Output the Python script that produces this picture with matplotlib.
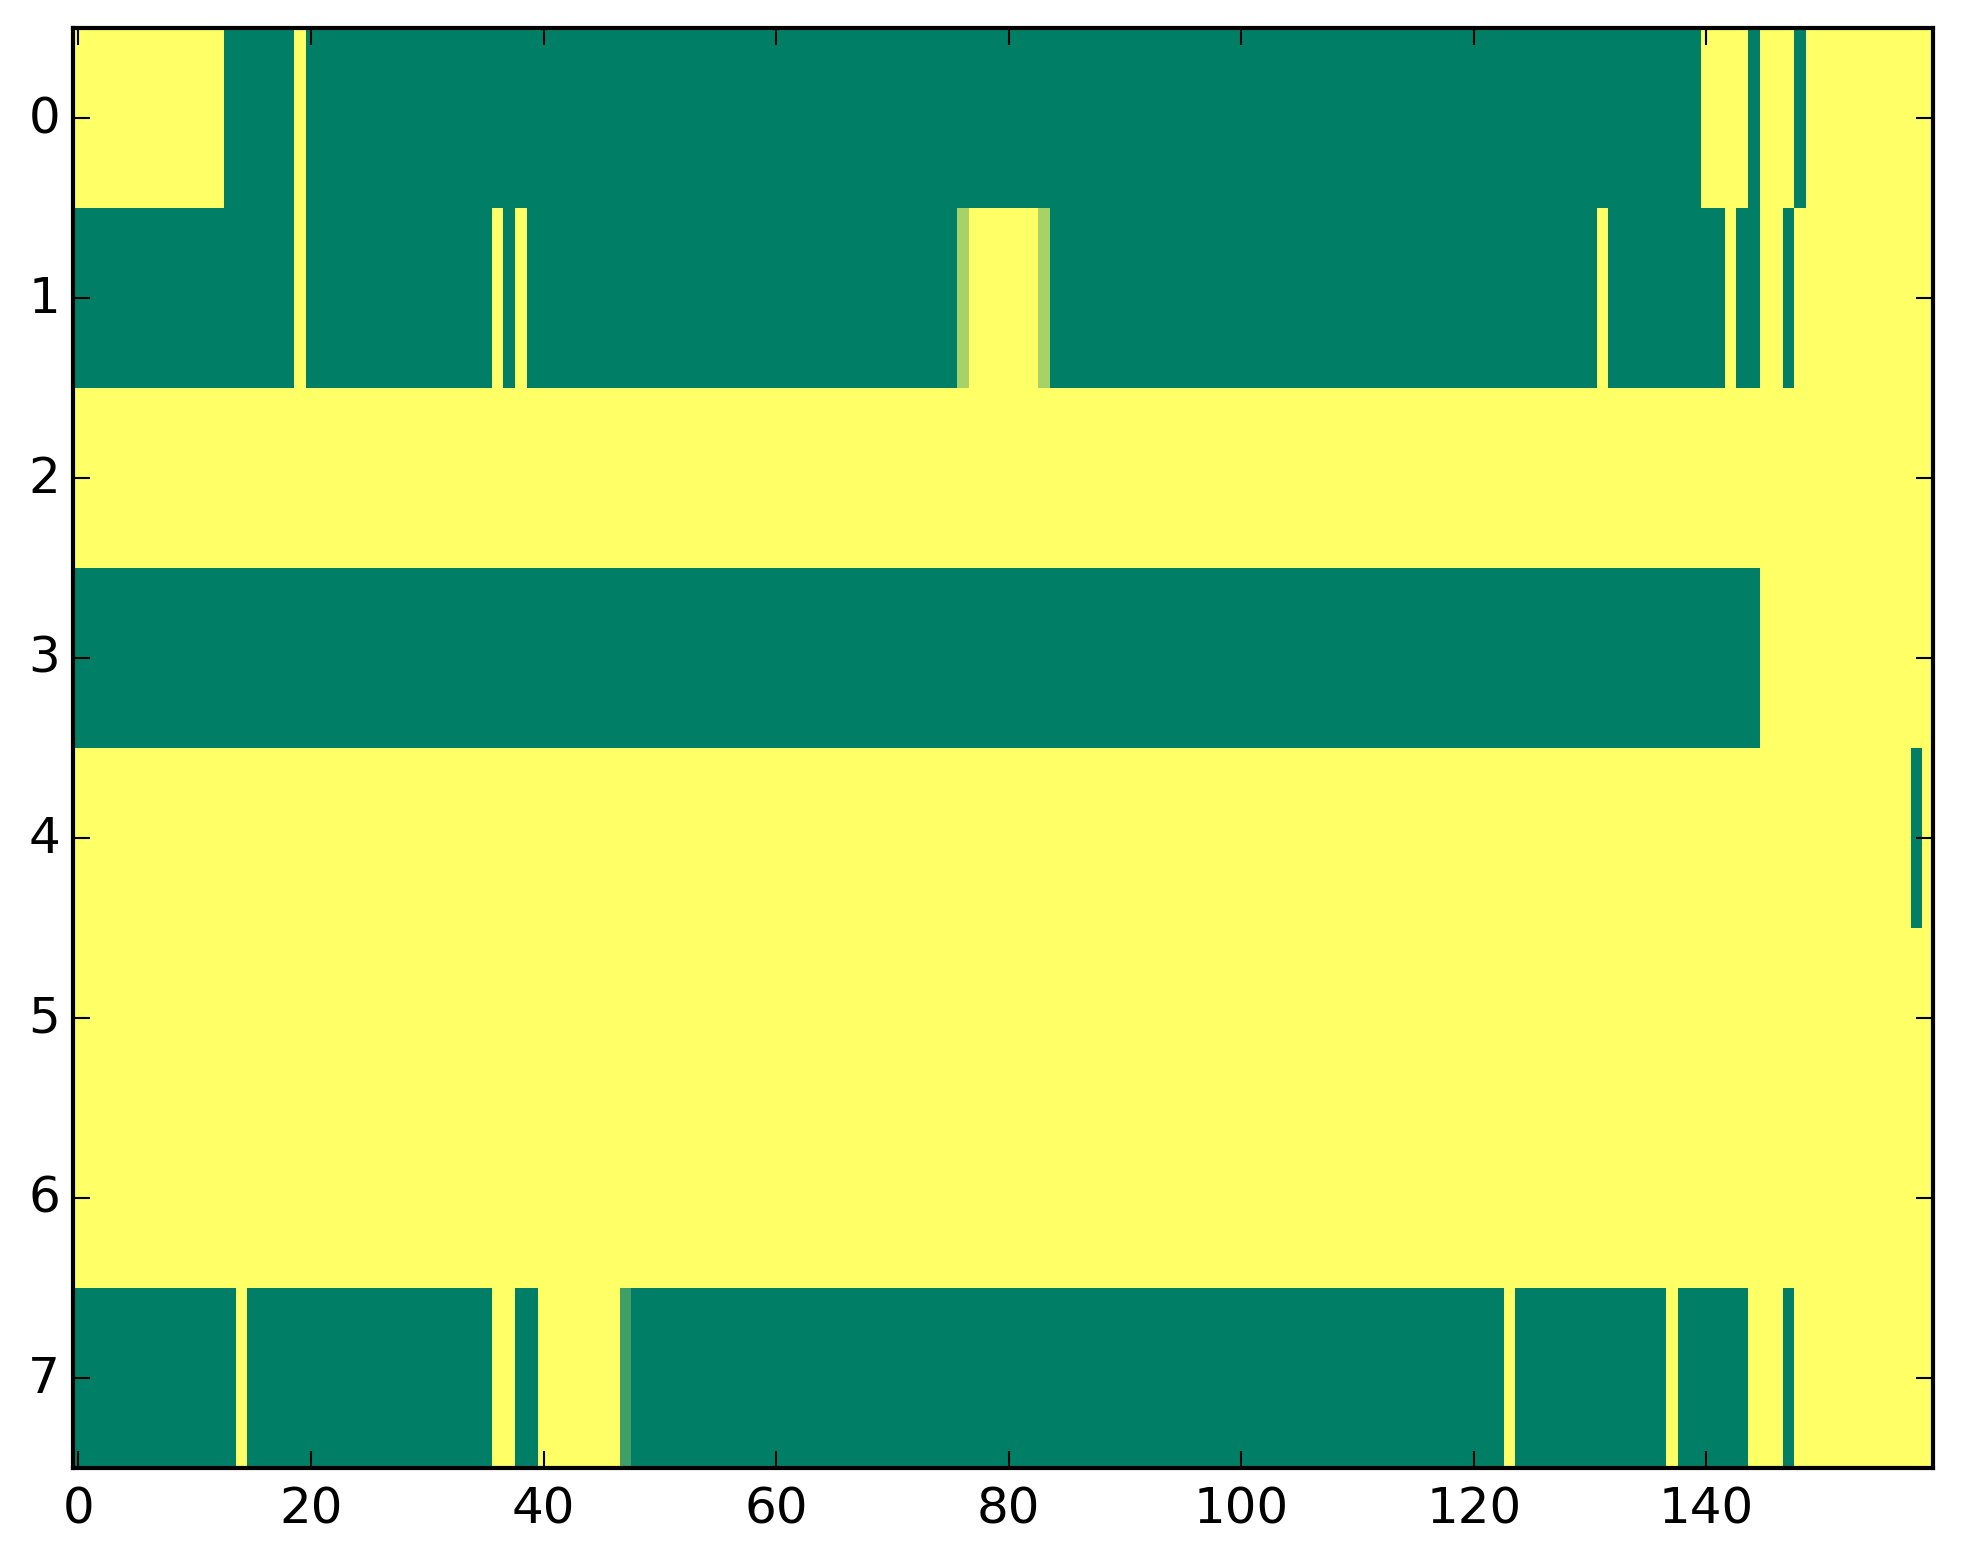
import numpy as np
import matplotlib
matplotlib.use('Agg')
import matplotlib.pyplot as plt

# each row given as runs of (value, number of columns); 1 = yellow, 0 = green
row0 = [(1, 13), (0, 6), (1, 1), (0, 120), (1, 4), (0, 1), (1, 3), (0, 1), (1, 11)]
row1 = [(0, 19), (1, 1), (0, 16), (1, 1), (0, 1), (1, 1), (0, 37), (0.65, 1), (1, 6),
        (0.65, 1), (0, 47), (1, 1), (0, 10), (1, 1), (0, 2), (1, 2), (0, 1), (1, 12)]
row2 = [(1, 160)]
row3 = [(0, 145), (1, 15)]
row4 = [(1, 158), (0, 1), (1, 1)]
row5 = [(1, 160)]
row6 = [(1, 160)]
row7 = [(0, 14), (1, 1), (0, 21), (1, 2), (0, 2), (1, 7), (0.25, 1), (0, 75), (1, 1),
        (0, 13), (1, 1), (0, 6), (1, 3), (0, 1), (1, 12)]

rows = [row0, row1, row2, row3, row4, row5, row6, row7]
xticks = [0, 20, 40, 60, 80, 100, 120, 140]
yticks = [0, 1, 2, 3, 4, 5, 6, 7]


def expand(runs):
    vals, counts = zip(*runs)
    return np.repeat(vals, counts)


grid = np.vstack([expand(r) for r in rows])

plt.style.use('classic')
fig = plt.figure(figsize=(1963 / 300, 1564 / 300), dpi=300)
ax = fig.add_axes([0.037, 0.061, 0.9477, 0.9203])
ax.imshow(grid, cmap='summer', vmin=0, vmax=1, aspect='auto', interpolation='nearest')
ax.set_xticks(xticks)
ax.set_yticks(yticks)
ax.set_xlim(-0.5, grid.shape[1] - 0.5)
ax.set_ylim(grid.shape[0] - 0.5, -0.5)
ax.tick_params(labelsize=12)
ax.tick_params(axis='y', pad=3)

fig.savefig('out.png', dpi=300, facecolor='white')
